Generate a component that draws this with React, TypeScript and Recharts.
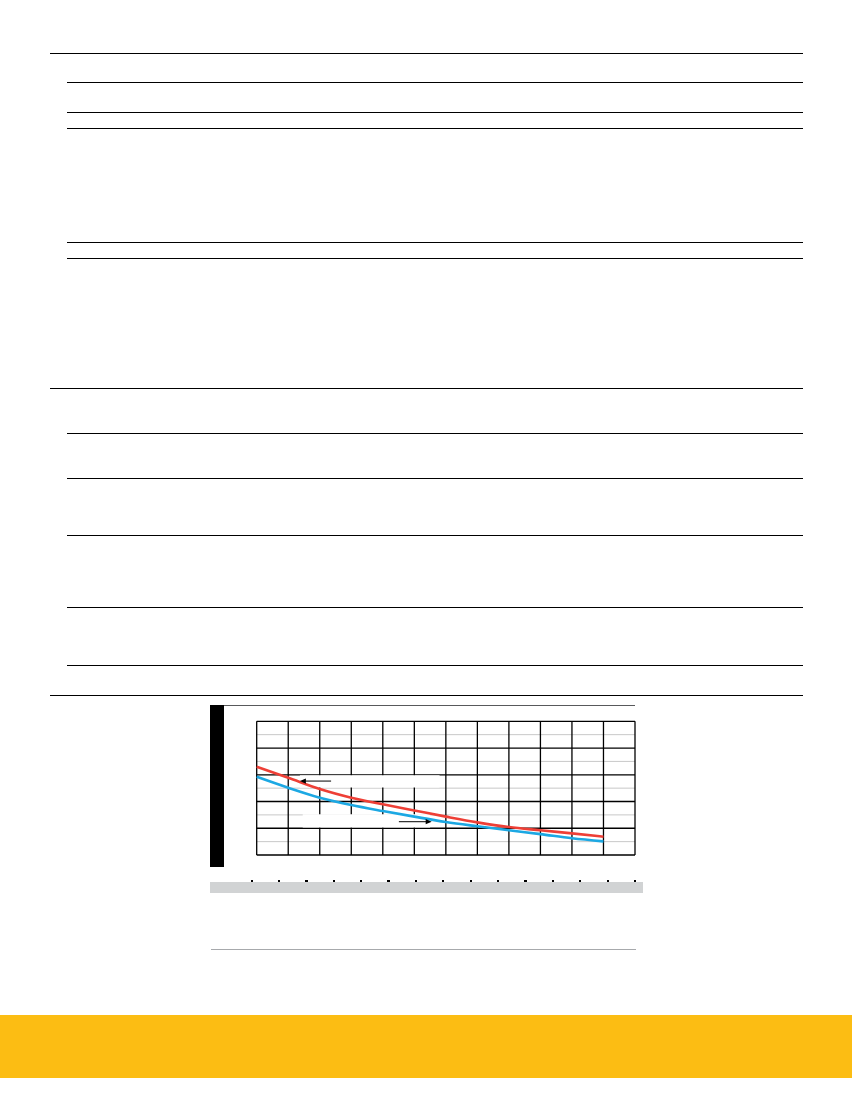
import React from 'react';
import {
  LineChart,
  Line,
  XAxis,
  YAxis,
  CartesianGrid,
  ReferenceArea,
  ReferenceLine,
} from 'recharts';

// ---- data ----
const xValues = [0, 1, 2, 3, 4, 5, 6, 7, 8, 9, 10, 11];
const redSeries = [6.6, 5.78, 4.94, 4.29, 3.79, 3.33, 2.87, 2.44, 2.09, 1.85, 1.62, 1.37];
const blueSeries = [5.85, 5.03, 4.29, 3.74, 3.29, 2.87, 2.47, 2.15, 1.85, 1.56, 1.25, 1.02];
const xTicks = [0, 2, 4, 6, 8, 10, 12];
const yTicks = [0, 4, 8];
const majorX = [0, 1, 2, 3, 4, 5, 6, 7, 8, 9, 10, 11, 12];
const majorY = [0, 2, 4, 6, 8, 10];
const minorY = [1, 3, 5, 7, 9];
const labelBoxes = [
  { x1: 1.37, x2: 5.8, y1: 5.05, y2: 5.96 },
  { x1: 1.46, x2: 5.5, y1: 2.05, y2: 3.05 },
];
const arrows = [
  { x1: 2.36, x2: 1.37, y: 5.53 },
  { x1: 4.51, x2: 5.55, y: 2.49 },
];
const bottomScaleCount = 15;

const data = xValues.map((x, i) => ({ x, red: redSeries[i], blue: blueSeries[i] }));

// ---- page decoration ----
const longRules = [53.3, 388.3, 695.3];
const shortRules = [82.3, 112.3, 128.3, 242.3, 258.3, 433.3, 478.3, 535.3, 607.3, 665.3];

const SquareTickX = (props: any) => {
  const { x, y } = props;
  return <rect x={x - 1.3} y={y - 1.3} width={2.6} height={2.6} fill="#000" />;
};
const SquareTickY = (props: any) => {
  const { x, y } = props;
  return <rect x={x - 1.3} y={y - 1.3} width={2.6} height={2.6} fill="#000" />;
};

const ArrowShape = (props: any) => {
  const { x1, y1, x2, y2 } = props;
  const dir = x2 > x1 ? 1 : -1;
  const hx = x2;
  const hy = y2;
  return (
    <g>
      <line x1={x1} y1={y1} x2={x2 - dir * 3} y2={y2} stroke="#000" strokeWidth={1} />
      <path
        d={`M${hx},${hy} L${hx - dir * 6},${hy - 2.6} L${hx - dir * 6},${hy + 2.6} Z`}
        fill="#000"
      />
    </g>
  );
};

export default function App() {
  const bandLeft = 251.7;
  const bandStep = (635 - 251.7) / (bottomScaleCount - 1);
  return (
    <div
      style={{
        position: 'absolute',
        left: 0,
        top: 0,
        width: 854,
        height: 1105,
        background: '#fff',
        overflow: 'hidden',
      }}
    >
      {longRules.map((y, i) => (
        <div
          key={'l' + i}
          style={{ position: 'absolute', left: 50, top: y - 0.65, width: 753, height: 1.3, background: '#000' }}
        />
      ))}
      {shortRules.map((y, i) => (
        <div
          key={'s' + i}
          style={{ position: 'absolute', left: 66.7, top: y - 0.65, width: 736.3, height: 1.3, background: '#000' }}
        />
      ))}

      {/* chart frame decorations */}
      <div style={{ position: 'absolute', left: 210, top: 705, width: 14, height: 162, background: '#000' }} />
      <div style={{ position: 'absolute', left: 224, top: 704.8, width: 411, height: 1, background: '#58595b' }} />
      <div style={{ position: 'absolute', left: 210, top: 882.3, width: 433, height: 10.4, background: '#d1d3d4' }} />
      {Array.from({ length: bottomScaleCount }).map((_, i) => (
        <div
          key={'q' + i}
          style={{
            position: 'absolute',
            left: bandLeft + i * bandStep - 1.1,
            top: 879.8,
            width: 2.2,
            height: 2.6,
            background: '#000',
          }}
        />
      ))}
      <div style={{ position: 'absolute', left: 211, top: 948.5, width: 425, height: 1.4, background: '#a7a9ac' }} />

      {/* yellow footer */}
      <div style={{ position: 'absolute', left: 0, top: 1015, width: 852, height: 63.3, background: '#fcbd13' }} />

      <div style={{ position: 'absolute', left: 240, top: 705, width: 410, height: 170 }}>
        <LineChart
          width={410}
          height={170}
          data={data}
          margin={{ top: 16.3, right: 15, bottom: 20, left: 16.7 }}
        >
          <CartesianGrid
            horizontalValues={minorY}
            vertical={false}
            stroke="#c8c8c8"
            strokeWidth={1}
          />
          <CartesianGrid
            horizontalValues={majorY}
            verticalValues={majorX}
            stroke="#000"
            strokeWidth={1.3}
          />
          <XAxis
            dataKey="x"
            type="number"
            domain={[0, 12]}
            ticks={xTicks}
            interval={0}
            height={0}
            tickSize={0}
            tickMargin={0}
            axisLine={false}
            tickLine={false}
            tick={<SquareTickX />}
          />
          <YAxis
            type="number"
            domain={[0, 10]}
            ticks={yTicks}
            interval={0}
            width={0}
            tickSize={0}
            tickMargin={0}
            axisLine={false}
            tickLine={false}
            tick={<SquareTickY />}
          />
          {labelBoxes.map((b, i) => (
            <ReferenceArea
              key={'b' + i}
              x1={b.x1}
              x2={b.x2}
              y1={b.y1}
              y2={b.y2}
              fill="#fff"
              fillOpacity={1}
              stroke="none"
              ifOverflow="visible"
            />
          ))}
          <Line
            type="monotone"
            dataKey="blue"
            stroke="#1ca8e3"
            strokeWidth={2.6}
            dot={false}
            isAnimationActive={false}
          />
          <Line
            type="monotone"
            dataKey="red"
            stroke="#ee3f36"
            strokeWidth={2.6}
            dot={false}
            isAnimationActive={false}
          />
          {arrows.map((a, i) => (
            <ReferenceLine
              key={'a' + i}
              segment={[
                { x: a.x1, y: a.y },
                { x: a.x2, y: a.y },
              ]}
              ifOverflow="visible"
              shape={<ArrowShape />}
            />
          ))}
        </LineChart>
      </div>
    </div>
  );
}
